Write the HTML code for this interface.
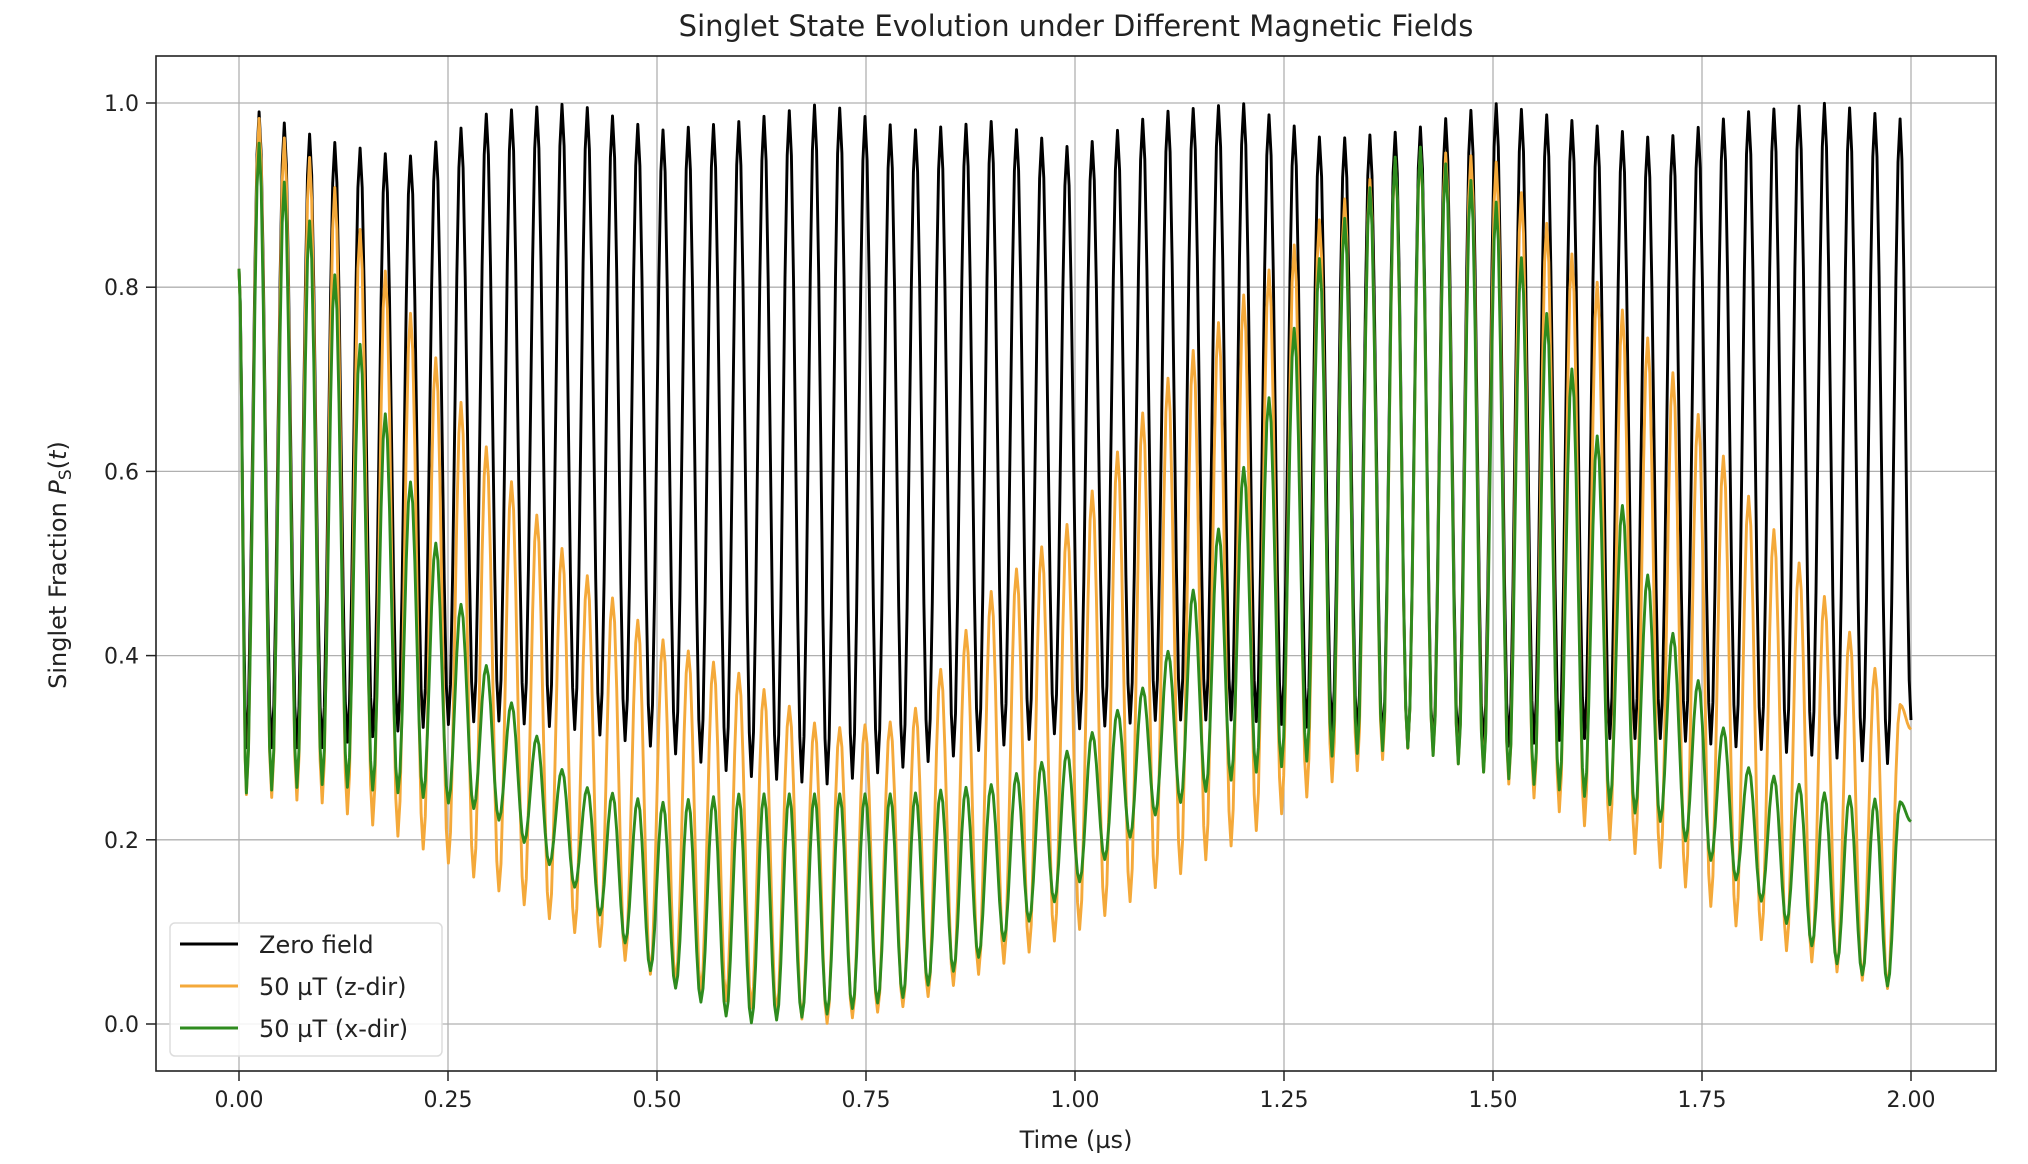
<!DOCTYPE html>
<html><head><meta charset="utf-8">
<style>
body{margin:0;background:#fff;}
svg{display:block;font-family:"DejaVu Sans","Liberation Sans",sans-serif;}
</style></head>
<body>
<svg id="chart" width="2028" height="1164" viewBox="0 0 2028 1164" xmlns="http://www.w3.org/2000/svg">
<rect x="0" y="0" width="2028" height="1164" fill="#fff"/>
<text x="1076" y="36" font-size="29" text-anchor="middle" fill="#222">Singlet State Evolution under Different Magnetic Fields</text>
<g id="grid"></g>
<g id="series"></g>
<rect x="156" y="56" width="1840" height="1015" fill="none" stroke="#222" stroke-width="1.6"/>
<g id="ticks"></g>
<text x="1076" y="1148" font-size="24" text-anchor="middle" fill="#222">Time (µs)</text>
<text transform="translate(66,565) rotate(-90)" font-size="24" text-anchor="middle" fill="#222">Singlet Fraction <tspan font-style="italic">P</tspan><tspan font-size="17" dy="5">S</tspan><tspan dy="-5">(</tspan><tspan font-style="italic">t</tspan>)</text>
<g>
<rect x="170" y="923" width="272" height="133" rx="5" fill="#fff" fill-opacity="0.85" stroke="#ddd" stroke-width="1.5"/>
<line x1="180" y1="944" x2="238" y2="944" stroke="#000" stroke-width="3"/>
<text x="259" y="953" font-size="24" fill="#222">Zero field</text>
<line x1="180" y1="986" x2="238" y2="986" stroke="#f4a93a" stroke-width="3"/>
<text x="259" y="995" font-size="24" fill="#222">50 µT (z-dir)</text>
<line x1="180" y1="1028" x2="238" y2="1028" stroke="#2e8b1e" stroke-width="3"/>
<text x="259" y="1037" font-size="24" fill="#222">50 µT (x-dir)</text>
</g>
</svg>
<script>
// envelope sample times (µs)
const envTimes = [0,0.1,0.2,0.3,0.4,0.5,0.6,0.7,0.8,0.9,1.0,1.1,1.2,1.3,1.4,1.5,1.6,1.7,1.8,1.9,2.0];
const zeroUpper = [1.0,0.96,0.94,0.99,1.0,0.97,0.98,1.0,0.97,0.98,0.95,0.99,1.0,0.96,0.97,1.0,0.98,0.96,0.99,1.0,0.98];
const zeroLower = [0.3,0.3,0.32,0.33,0.32,0.3,0.27,0.26,0.28,0.3,0.32,0.33,0.33,0.32,0.3,0.3,0.31,0.31,0.3,0.29,0.28];
const zUpper = [1.0,0.93,0.78,0.62,0.5,0.42,0.38,0.32,0.33,0.47,0.55,0.69,0.79,0.88,0.95,0.94,0.83,0.73,0.58,0.46,0.33];
const zLower = [0.25,0.24,0.2,0.15,0.1,0.05,0.02,0.0,0.02,0.06,0.1,0.15,0.2,0.26,0.3,0.27,0.22,0.17,0.1,0.06,0.03];
const xUpper = [0.99,0.85,0.6,0.38,0.26,0.24,0.25,0.25,0.25,0.26,0.3,0.38,0.6,0.85,0.96,0.9,0.7,0.45,0.28,0.25,0.24];
const xLower = [0.25,0.26,0.25,0.23,0.15,0.05,0.0,0.01,0.03,0.08,0.15,0.23,0.27,0.29,0.3,0.27,0.25,0.22,0.15,0.07,0.03];
const startValue = [0.82,0.82,0.82];
const endValue = [0.33,0.32,0.22];
const period = 0.0302, firstPeak = 0.024;
const xTicks = [0,0.25,0.5,0.75,1.0,1.25,1.5,1.75,2.0];
const xTickLabels = ["0.00","0.25","0.50","0.75","1.00","1.25","1.50","1.75","2.00"];
const yTicks = [0,0.2,0.4,0.6,0.8,1.0];
const yTickLabels = ["0.0","0.2","0.4","0.6","0.8","1.0"];

const X = t => 239 + t*(1911-239)/2;
const Y = v => 1024 - v*(1024-103);
const NS="http://www.w3.org/2000/svg";
function env(arr,t){
  const s=t/0.1; let i=Math.floor(s); if(i>=arr.length-1) return arr[arr.length-1];
  const f=s-i; return arr[i]*(1-f)+arr[i+1]*f;
}
const grid=document.getElementById('grid'), ticks=document.getElementById('ticks'), sg=document.getElementById('series');
xTicks.forEach((t,i)=>{
  const g=document.createElementNS(NS,'line');
  g.setAttribute('x1',X(t));g.setAttribute('x2',X(t));g.setAttribute('y1',56);g.setAttribute('y2',1071);
  g.setAttribute('stroke','#b0b0b0');g.setAttribute('stroke-width','1.3');
  
  
  grid.appendChild(g);
  const tk=document.createElementNS(NS,'line');
  tk.setAttribute('x1',X(t));tk.setAttribute('x2',X(t));tk.setAttribute('y1',1071);tk.setAttribute('y2',1081);
  tk.setAttribute('stroke','#222');tk.setAttribute('stroke-width','1.5');
  
  
  ticks.appendChild(tk);
  const tx=document.createElementNS(NS,'text');
  tx.setAttribute('x',X(t));tx.setAttribute('y',1107);tx.setAttribute('font-size','22');tx.setAttribute('text-anchor','middle');tx.setAttribute('fill','#222');
  tx.textContent=xTickLabels[i];
  
  
  ticks.appendChild(tx);
});
yTicks.forEach((v,i)=>{
  const g=document.createElementNS(NS,'line');
  g.setAttribute('x1',156);g.setAttribute('x2',1996);g.setAttribute('y1',Y(v));g.setAttribute('y2',Y(v));
  g.setAttribute('stroke','#b0b0b0');g.setAttribute('stroke-width','1.3');
  
  
  grid.appendChild(g);
  const tk=document.createElementNS(NS,'line');
  tk.setAttribute('x1',146);tk.setAttribute('x2',156);tk.setAttribute('y1',Y(v));tk.setAttribute('y2',Y(v));
  tk.setAttribute('stroke','#222');tk.setAttribute('stroke-width','1.5');
  
  
  ticks.appendChild(tk);
  const tx=document.createElementNS(NS,'text');
  tx.setAttribute('x',139);tx.setAttribute('y',Y(v)+8);tx.setAttribute('font-size','22');tx.setAttribute('text-anchor','end');tx.setAttribute('fill','#222');
  tx.textContent=yTickLabels[i];
  
  
  ticks.appendChild(tx);
});
function series(up,lo,v0,v1,color,name){
  const ext=[[0,v0]];
  let t=firstPeak-period/2, isPeak=false;
  while(t<=1.995){ ext.push([t,isPeak?env(up,t):env(lo,t)]); t+=period/2; isPeak=!isPeak; }
  ext.push([2.0,v1]);
  let d='M'+X(ext[0][0]).toFixed(1)+' '+Y(ext[0][1]).toFixed(1);
  for(let k=1;k<ext.length;k++){
    const [t0,a]=ext[k-1],[t1,b]=ext[k];
    for(let s=1;s<=6;s++){
      const f=s/6, w=(1-Math.cos(Math.PI*f))/2;
      d+='L'+X(t0+(t1-t0)*f).toFixed(1)+' '+Y(a+(b-a)*w).toFixed(1);
    }
  }
  const p=document.createElementNS(NS,'path');
  p.setAttribute('d',d);p.setAttribute('fill','none');p.setAttribute('stroke',color);p.setAttribute('stroke-width','2.9');p.setAttribute('stroke-linejoin','round');
  
  
  sg.appendChild(p);
}
series(zeroUpper,zeroLower,startValue[0],endValue[0],'#000','zero-field-line');
series(zUpper,zLower,startValue[1],endValue[1],'#f4a93a','z-dir-line');
series(xUpper,xLower,startValue[2],endValue[2],'#2e8b1e','x-dir-line');
</script>
</body></html>
